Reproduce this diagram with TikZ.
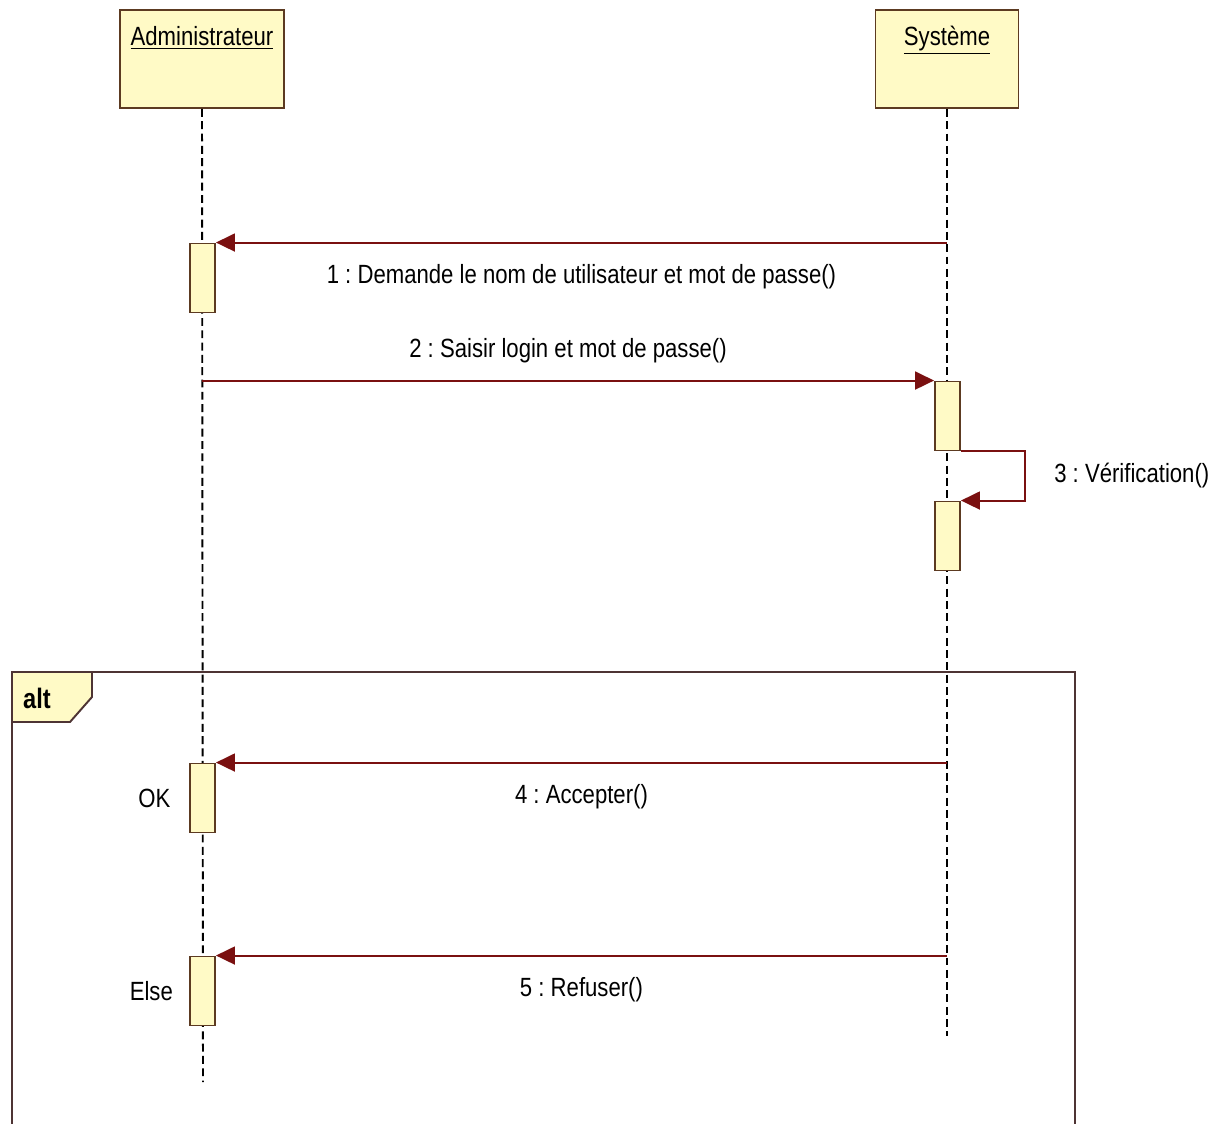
\documentclass[tikz,border=0pt]{standalone}
\usepackage{fontspec}
\setmainfont[FakeStretch=0.84]{Liberation Sans}
\usetikzlibrary{calc, positioning, arrows.meta}
\frenchspacing

\begin{document}
\begin{tikzpicture}[x=0.02cm, y=-0.02cm, font=\fontsize{15}{18}\selectfont]
    \definecolor{borderColour}{HTML}{5C3A21}
    \definecolor{fillColour}{HTML}{FFFAC6}
    \definecolor{msgColour}{HTML}{7A1010}
    \definecolor{frameColour}{HTML}{4E3434}

    \tikzset{
        lifeBox/.style={draw=borderColour, fill=fillColour, line width=1.1pt, minimum height=1.96cm},
        lifeLine/.style={draw=black, line width=1.1pt, dash pattern=on 4.5pt off 2.5pt},
        actBar/.style={draw=borderColour, fill=fillColour, line width=1.1pt, minimum width=0.5cm, minimum height=1.38cm, inner sep=0pt},
        msg/.style={draw=msgColour, line width=1.1pt, -{Triangle[length=0.38cm, width=0.36cm]}},
        frameLine/.style={draw=frameColour, line width=1.1pt}
    }

    \useasboundingbox[fill=white] (0,0) rectangle (1223,1124);

    % Lifeline heads
    \node[lifeBox, minimum width=3.28cm,
          label={[anchor=north, yshift=-0.22cm]north:\underline{Administrateur}}] (adminBox) at (202,59) {};
    \node[lifeBox, minimum width=2.86cm,
          label={[anchor=north, yshift=-0.22cm]north:\underline{Système}}] (sysBox) at (947,59) {};

    % Lifelines
    \coordinate (adminEnd) at (203,1082);
    \coordinate (sysEnd) at (947,1036);
    \draw[lifeLine] (adminBox.south) -- (adminEnd);
    \draw[lifeLine] (sysBox.south) -- (sysEnd);

    % Activation bars
    \node[actBar] (act1) at (202.5,278) {};
    \node[actBar] (act2) at (947.5,416) {};
    \node[actBar] (act3) at (947.5,536) {};
    \node[actBar] (act4) at (202.5,798) {};
    \node[actBar] (act5) at (202.5,991) {};

    % Messages
    \draw[msg] (sysBox.south |- act1.north) -- (act1.north east)
        node[midway, below=0.3cm] {1 : Demande le nom de utilisateur et mot de passe()};
    \draw[msg] (adminBox.south |- act2.north) -- (act2.north west)
        node[midway, above=0.22cm] {2 : Saisir login et mot de passe()};
    \draw[msg] (act2.south east) -- ++(64,0) |- (act3.north east)
        node[pos=0.25, right=0.45cm] {3 : Vérification()};

    % alt frame
    \draw[frameLine] (12,1124) -- (12,672) -- (1075,672) -- (1075,1124);
    \draw[frameLine, fill=fillColour] (12,672) -- (92,672) -- (92,697) -- (70,722) -- (12,722) -- cycle;
    \node[font=\fontsize{16}{18}\selectfont\bfseries] (altTag) at (37,698) {alt};

    \draw[msg] (sysBox.south |- act4.north) -- (act4.north east)
        node[midway, below=0.3cm] {4 : Accepter()};
    \node[left=0.25cm of act4] (okGuard) {OK};

    \draw[msg] (sysBox.south |- act5.north) -- (act5.north east)
        node[midway, below=0.3cm] {5 : Refuser()};
    \node[left=0.2cm of act5] (elseGuard) {Else};
\end{tikzpicture}
\end{document}
